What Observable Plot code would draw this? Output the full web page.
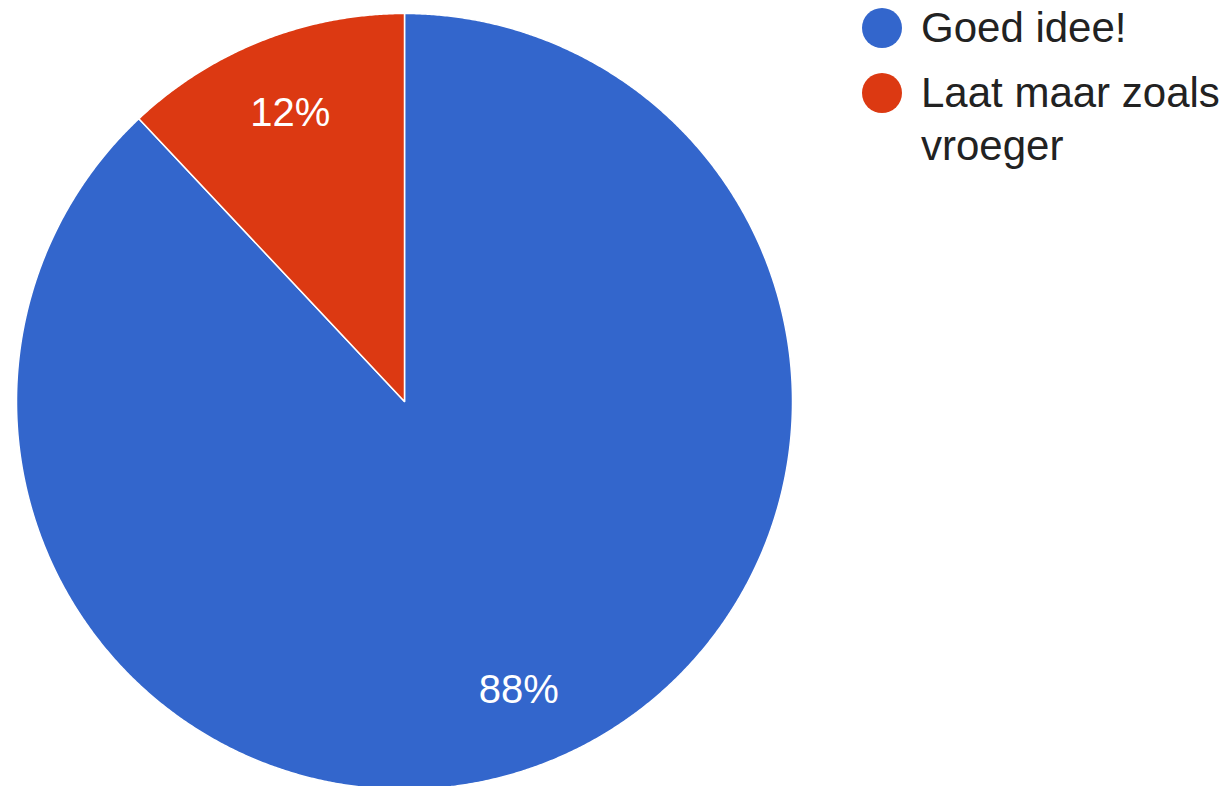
<!DOCTYPE html>
<html>
<head>
<meta charset="utf-8">
<script src="https://cdn.jsdelivr.net/npm/d3@7"></script>
<script src="https://cdn.jsdelivr.net/npm/@observablehq/plot@0.6"></script>
<style>
  html, body { margin: 0; padding: 0; background: #fff; overflow: hidden; }
  #wrap { position: relative; width: 1224px; height: 786px; font-family: Arial, "Liberation Sans", sans-serif; }
  #chart { position: absolute; left: 0; top: 0; }
  .legend-item { position: absolute; left: 862px; width: 362px; font-size: 42px; line-height: 53px; color: #222; }
  .legend-item .sw { position: absolute; left: 0; top: 7px; width: 40px; height: 40px; border-radius: 50%; }
  .legend-item .lb { position: absolute; left: 59px; top: 0; width: 310px; white-space: normal; }
</style>
</head>
<body>
<div id="wrap"><div id="chart"></div></div>
<script>
const categories = ["Goed idee!", "Laat maar zoals vroeger"];
const values = [88, 12];
const colors = ["#3366CC", "#DC3912"];

const total = d3.sum(values);
const arcs = d3.pie().sort(null).value(d => d)(values);

// slice outline points (center + arc) in unit-circle coordinates
const slicePts = arcs.map((a, i) => {
  const pts = [{name: categories[i], x: 0, y: 0}];
  const n = Math.max(2, Math.ceil((a.endAngle - a.startAngle) / 0.005));
  for (let k = 0; k <= n; k++) {
    const t = a.startAngle + (a.endAngle - a.startAngle) * k / n;
    pts.push({name: categories[i], x: Math.sin(t), y: Math.cos(t)});
  }
  pts.push({name: categories[i], x: 0, y: 0});
  return pts;
});

const labels = arcs.map((a, i) => {
  const m = (a.startAngle + a.endAngle) / 2;
  return {
    name: categories[i],
    text: Math.round(values[i] / total * 100) + "%",
    x: 0.8 * Math.sin(m),
    y: 0.8 * Math.cos(m)
  };
});

const cx = 404, cy = 401, r = 388;

const plot = Plot.plot({
  width: 1224,
  height: 786,
  margin: 0,
  x: {domain: [-1, 1], range: [cx - r, cx + r], axis: null},
  y: {domain: [-1, 1], range: [cy + r, cy - r], axis: null},
  style: {background: "transparent", fontFamily: "Arial, 'Liberation Sans', sans-serif"},
  marks: [
    ...slicePts.map((pts, i) => Plot.line(pts, {
      x: "x", y: "y", fill: colors[i], stroke: "white", strokeWidth: 1.5, curve: "linear"
    })),
    Plot.text(labels, {
      x: "x", y: "y", text: "text", fill: "white", fontSize: 40, textAnchor: "middle", lineAnchor: "middle"
    })
  ]
});
document.getElementById("chart").appendChild(plot);

const wrap = document.getElementById("wrap");
const tops = [1, 66];
categories.forEach((c, i) => {
  const item = document.createElement("div");
  item.className = "legend-item";
  item.style.top = tops[i] + "px";
  const sw = document.createElement("div");
  sw.className = "sw";
  sw.style.background = colors[i];
  const lb = document.createElement("div");
  lb.className = "lb";
  lb.textContent = c;
  item.appendChild(sw);
  item.appendChild(lb);
  wrap.appendChild(item);
});
</script>
</body>
</html>
